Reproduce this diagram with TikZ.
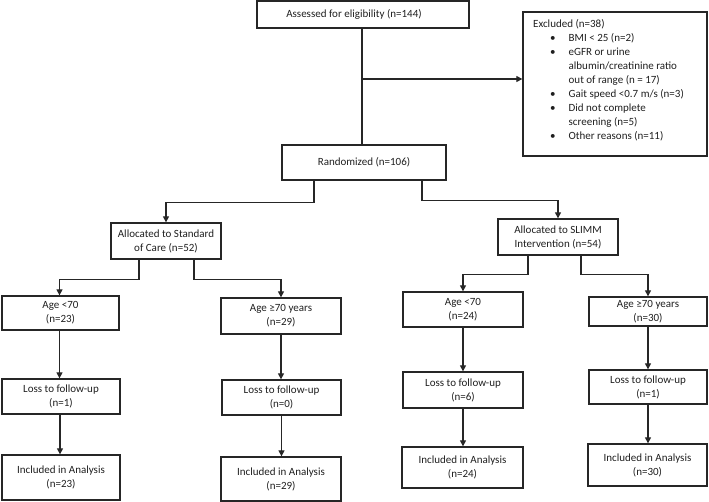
\documentclass[tikz,border=0pt]{standalone}
\usepackage{fontspec}
\setmainfont{Carlito}
\usetikzlibrary{arrows.meta,calc}
\tikzset{
  box/.style={draw=black!85, line width=1.3pt, rectangle, inner sep=0pt, align=center, text=black!88,
    font=\fontsize{11}{14}\selectfont},
  arr/.style={draw=black!85, line width=1.2pt, -{Triangle[length=6pt,width=6pt]}},
  ln/.style={draw=black!85, line width=1.2pt},
}
\newcommand{\bx}[6]{\node[box, minimum width={#4-#2}, minimum height={#5-#3}] (#1) at ({(#2+#4)/2},{(#3+#5)/2}) {#6};}
\begin{document}
\begin{tikzpicture}[x=1pt,y=-1pt]
\useasboundingbox (0,0) rectangle (709,502);
\bx{assess}{257}{1}{469}{28}{\hspace*{-18pt}Assessed for eligibility (n=144)}
\bx{excl}{523}{12}{707}{156}{}
\node[anchor=north west, inner sep=0pt, text=black!88, font=\fontsize{11}{14}\selectfont] (exclt) at (529,18) {%
  \begin{tabular}{@{\hspace{21pt}}l@{\hspace{13pt}}l@{}}
  \multicolumn{2}{@{\hspace{4pt}}l}{Excluded (n=38)}\\
  • & BMI < 25 (n=2)\\
  • & eGFR or urine\\
    & albumin/creatinine ratio\\
    & out of range (n = 17)\\
  • & Gait speed <0.7 m/s (n=3)\\
  • & Did not complete\\
    & screening (n=5)\\
  • & Other reasons (n=11)
  \end{tabular}};
\bx{rand}{282}{145}{446}{180}{Randomized (n=106)}
\bx{soc}{111}{223}{221}{259}{Allocated to Standard\\of Care (n=52)}
\bx{slimm}{498}{219}{618}{255}{Allocated to SLIMM\\Intervention (n=54)}
% left arm
\bx{a1}{2}{296}{119}{330}{Age <70\\(n=23)}
\bx{a2}{221}{298}{341}{334}{Age ≥70 years\\(n=29)}
\bx{l1}{2}{379}{120}{414}{Loss to follow-up\\(n=1)}
\bx{l2}{222}{380}{341}{415}{Loss to follow-up\\(n=0)}
\bx{i1}{2}{455}{120}{500}{Included in Analysis\\(n=23)}
\bx{i2}{221}{457}{341}{501}{Included in Analysis\\(n=29)}
% right arm
\bx{a3}{403}{292}{523}{327}{Age <70\\(n=24)}
\bx{a4}{589}{297}{707}{326}{Age ≥70 years\\(n=30)}
\bx{l3}{403}{372}{523}{408}{Loss to follow-up\\(n=6)}
\bx{l4}{589}{370}{707}{404}{Loss to follow-up\\(n=1)}
\bx{i3}{402}{447}{523}{488}{Included in Analysis\\(n=24)}
\bx{i4}{588}{444}{707}{486}{Included in Analysis\\(n=30)}
% connectors
\coordinate (j) at (362,79);
\draw[ln] (assess.south -| j) -- (rand.north -| j);
\draw[arr] (j) -- (j -| excl.west);
\draw[arr] ([xshift=-50pt]rand.south) -- ++(0,22) -| (soc.north);
\draw[arr] ([xshift=58pt]rand.south) -- ++(0,20) -| (slimm.north);
\draw[arr] ([xshift=-27pt]soc.south) -- ++(0,20) -| ([xshift=-1pt]a1.north);
\draw[arr] ([xshift=28pt]soc.south) -- ++(0,20) -| (a2.north);
\draw[arr] ([xshift=-30pt]slimm.south) -- ++(0,19) -| (a3.north);
\draw[arr] ([xshift=23pt]slimm.south) -- ++(0,19) -| (a4.north);
\draw[arr] ([xshift=-1pt]a1.south) -- ([xshift=-1pt]a1.south |- l1.north);
\draw[arr] (a2.south) -- (a2.south |- l2.north);
\draw[arr] (a3.south) -- (a3.south |- l3.north);
\draw[arr] (a4.south) -- (a4.south |- l4.north);
\draw[arr] ([xshift=-1pt]l1.south) -- ([xshift=-1pt]l1.south |- i1.north);
\draw[arr] (l2.south) -- (l2.south |- i2.north);
\draw[arr] (l3.south) -- (l3.south |- i3.north);
\draw[arr] (l4.south) -- (l4.south |- i4.north);
\end{tikzpicture}
\end{document}
